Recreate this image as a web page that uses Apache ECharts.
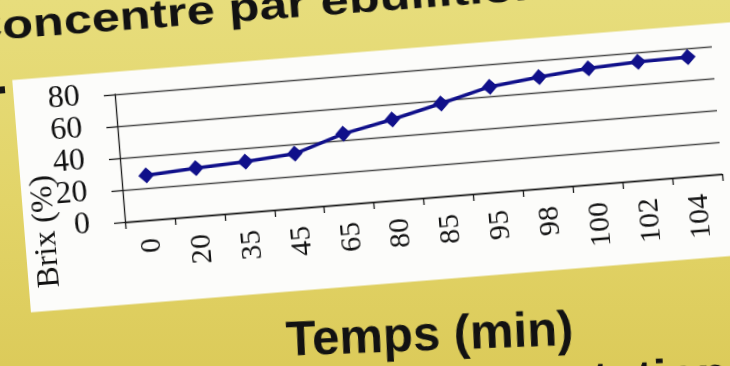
<!DOCTYPE html>
<html>
<head>
<meta charset="utf-8">
<script src="https://cdn.jsdelivr.net/npm/echarts@6/dist/echarts.min.js"></script>
<style>
  html, body {
    margin: 0; padding: 0; width: 730px; height: 366px; overflow: hidden;
    background: linear-gradient(180deg, #e7dd7c 0%, #e2d468 55%, #dccb5a 100%);
  }
  /* the poster sheet is photographed slightly tilted */
  #chart {
    position: absolute; left: -25.5px; top: -16px;
    width: 840px; height: 480px;
    transform-origin: 150px 238px;
    transform: rotate(-4.6deg);
  }
</style>
</head>
<body>
<div id="chart"></div>
<script>
// Brix of the juice while it is boiled down
const minutes = ['0', '20', '35', '45', '65', '80', '85', '95', '98', '100', '102', '104'];
const brix = [28, 30, 31.5, 34, 44, 50.5, 58, 66, 69.5, 72.5, 74, 74.5];
const brixMin = 0, brixMax = 80, brixStep = 20;

const serif = '"Liberation Serif", "Times New Roman", serif';
const sans = '"Liberation Sans", Arial, sans-serif';

const chart = echarts.init(document.getElementById('chart'), null, { renderer: 'canvas' });

chart.setOption({
  animation: false,
  backgroundColor: 'transparent',
  grid: { left: 150, top: 110, width: 599, height: 128, containLabel: false },
  graphic: [
    // white chart sheet
    { type: 'rect', z: -10, shape: { x: 49, y: 87.5, width: 800, height: 233 },
      style: { fill: '#fcfcfa' } },
    // bullet of the poster text hidden behind the sheet
    { type: 'rect', z: -5, shape: { x: 33, y: 93, width: 8, height: 7 },
      style: { fill: '#151515' } },
    // poster heading
    { type: 'text', z: 5, x: 7, y: 34.5, rotation: -0.006, scaleX: 1.26,
      style: { text: 'Concentre par ébullition', fontSize: 40, fontWeight: 'bold',
               fontFamily: sans, fill: '#121212', align: 'left', verticalAlign: 'middle' } },
    // next poster heading, only its top shows at the bottom edge
    { type: 'text', z: 5, x: 738, y: 440, rotation: -0.044, scaleX: 1.1,
      style: { text: 'ntation', fontSize: 45, fontWeight: 'bold',
               fontFamily: sans, fill: '#121212', align: 'right', verticalAlign: 'middle' } },
    // value axis title
    { type: 'text', z: 5, x: 71, y: 241, rotation: Math.PI / 2,
      style: { text: 'Brix (%)', fontSize: 32, fontFamily: serif, fill: '#111',
               align: 'center', verticalAlign: 'middle' } }
  ],
  xAxis: {
    type: 'category',
    data: minutes,
    boundaryGap: true,
    name: 'Temps (min)',
    nameLocation: 'middle',
    nameGap: 139,
    nameRotate: -2.4,
    nameTextStyle: { fontSize: 49, fontWeight: 'bold', fontFamily: sans, color: '#121212',
                     align: 'center', verticalAlign: 'middle', padding: [0, 10, 0, 0] },
    axisLine: { show: true, lineStyle: { color: '#1a1a1a', width: 1.3 } },
    axisTick: { show: true, length: 7, inside: false, lineStyle: { color: '#1a1a1a', width: 1.3 } },
    axisLabel: { rotate: 90, margin: 18, fontSize: 30, fontFamily: serif, color: '#111' },
    splitLine: { show: false }
  },
  yAxis: {
    type: 'value',
    min: brixMin, max: brixMax, interval: brixStep,
    axisLine: { show: true, lineStyle: { color: '#1a1a1a', width: 1.3 } },
    axisTick: { show: true, length: 11, inside: false, lineStyle: { color: '#1a1a1a', width: 1.3 } },
    axisLabel: { margin: 35, fontSize: 32, fontFamily: serif, color: '#111' },
    splitLine: { show: true, lineStyle: { color: '#4a4a4a', width: 1.3 } }
  },
  series: [{
    type: 'line',
    data: brix,
    symbol: 'diamond',
    symbolSize: 16,
    showAllSymbol: true,
    lineStyle: { color: '#10108a', width: 3.5 },
    itemStyle: { color: '#10108a' },
    z: 3
  }]
});
</script>
</body>
</html>
